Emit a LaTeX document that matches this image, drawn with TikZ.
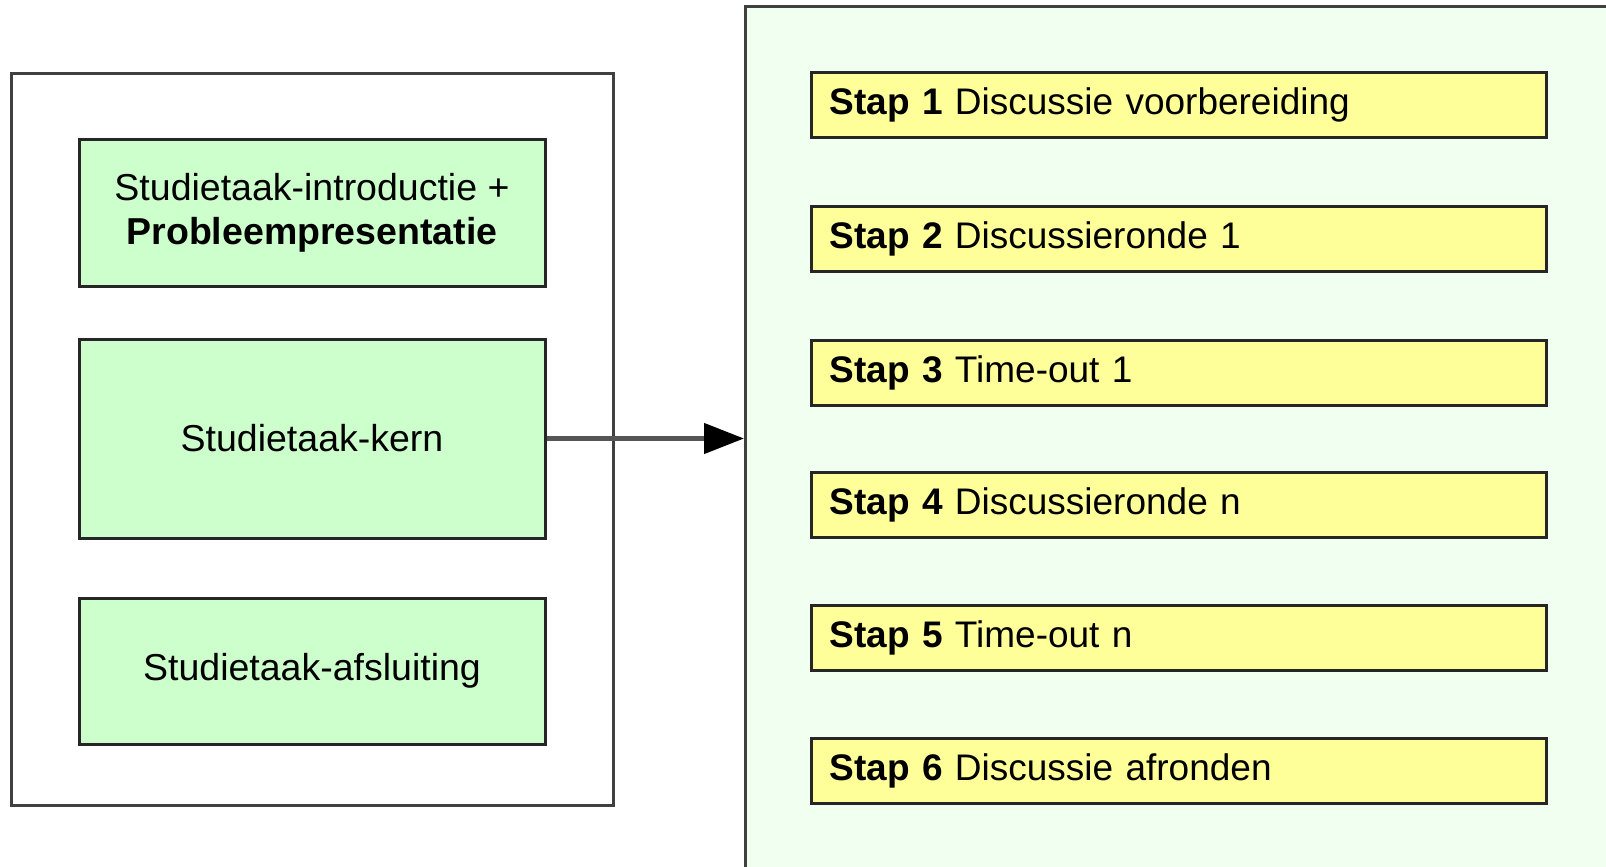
\documentclass[tikz,border=0pt]{standalone}
\usepackage{fontspec}
\setmainfont{Liberation Sans}
\usetikzlibrary{arrows.meta}
\definecolor{boxgreen}{HTML}{CCFFCC}
\definecolor{boxyellow}{HTML}{FFFF99}
\definecolor{panelgreen}{HTML}{F0FFF0}
\definecolor{edgegray}{HTML}{404040}
\definecolor{arrowgray}{HTML}{555555}
\tikzset{
  basefont/.style={font=\fontsize{37.5}{44}\selectfont},
  stepfont/.style={font=\fontsize{37}{44}\selectfont},
  greenbox/.style={draw=black!85, line width=3pt, fill=boxgreen, minimum width=466pt,
    align=center, basefont, inner sep=0pt},
  stepbox/.style={draw=black!85, line width=3pt, fill=boxyellow, minimum width=735pt,
    minimum height=65pt, anchor=west, inner xsep=18pt, inner ysep=0pt,
    text width=699pt, align=left, stepfont},
  groupbox/.style={draw=edgegray, line width=3pt, fill=white, anchor=north west,
    minimum width=602pt, minimum height=732pt, inner sep=0pt},
  panelbox/.style={draw=edgegray, line width=3pt, fill=panelgreen, anchor=north west,
    minimum width=876pt, minimum height=875pt, inner sep=0pt},
  flow/.style={line width=4.5pt, draw=arrowgray,
    -{Triangle[length=40pt,width=30pt,color=black,fill=black]}}
}
\begin{document}
\begin{tikzpicture}[x=1pt,y=-1pt]
\useasboundingbox (0,0) rectangle (1606,867);
\node[panelbox] (panel) at (744,5) {};
\node[groupbox] (group) at (10,72) {};
\node[greenbox, minimum height=147pt] (intro) at (312,212.5)
  {Studietaak-introductie +\\\textbf{Probleempresentatie}};
\node[greenbox, minimum height=199pt] (kern) at (312,438.5) {Studietaak-kern};
\node[greenbox, minimum height=146pt] (afsl) at (312,671) {Studietaak-afsluiting};
\node[stepbox] (s1) at (810,105) {\textbf{Stap 1} Discussie voorbereiding};
\node[stepbox] (s2) at (810,238.5) {\textbf{Stap 2} Discussieronde 1};
\node[stepbox] (s3) at (810,373) {\textbf{Stap 3} Time-out 1};
\node[stepbox] (s4) at (810,505) {\textbf{Stap 4} Discussieronde n};
\node[stepbox] (s5) at (810,638) {\textbf{Stap 5} Time-out n};
\node[stepbox] (s6) at (810,771) {\textbf{Stap 6} Discussie afronden};
\draw[flow] (kern.east) -- (kern.east -| panel.west);
\end{tikzpicture}
\end{document}
